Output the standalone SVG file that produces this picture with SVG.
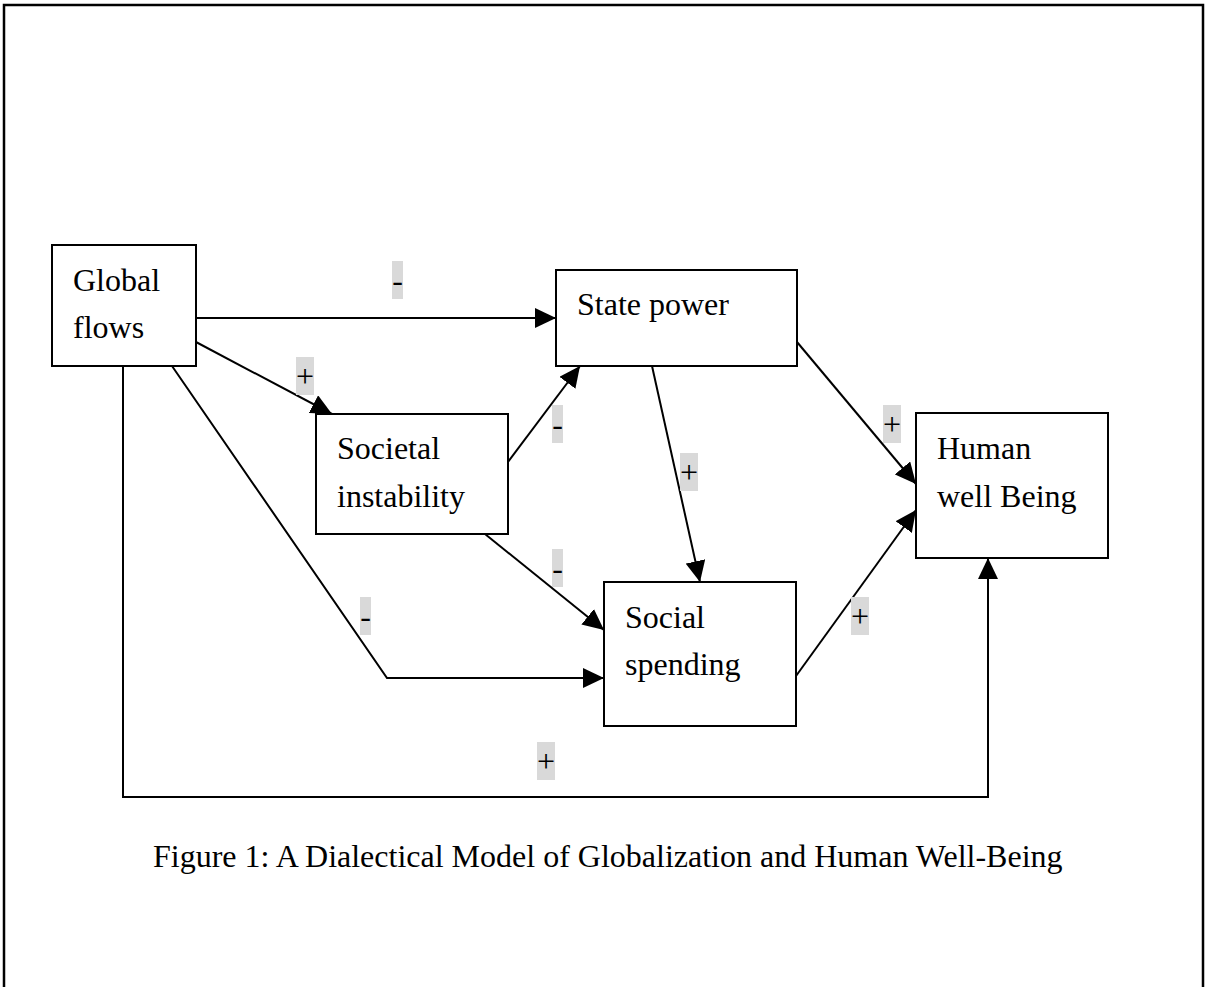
<svg xmlns="http://www.w3.org/2000/svg" width="1207" height="987" viewBox="0 0 1207 987">
<style>
.box{fill:#fff;stroke:#000;stroke-width:2}
.t{font-family:"Liberation Serif","Times New Roman",serif;font-size:32px;fill:#000}
.e{fill:none;stroke:#000;stroke-width:2}
.lb{fill:#d9d9d9}
.lt{font-family:"Liberation Serif","Times New Roman",serif;font-size:32px;fill:#000;text-anchor:middle}
</style>
<defs>
<marker id="ah" markerUnits="userSpaceOnUse" markerWidth="22" markerHeight="20" refX="21" refY="10" orient="auto" viewBox="0 0 22 20">
<path d="M0,0 L21,10 L0,20 z" fill="#000"/>
</marker>
</defs>
<rect width="1207" height="987" fill="#fff"/>
<path d="M4,987 V5 H1203 V987" fill="none" stroke="#000" stroke-width="2.5"/>
<g id="connectors">
<path class="e" d="M196,318 H556" marker-end="url(#ah)"/>
<path class="e" d="M196,342 L332,414" marker-end="url(#ah)"/>
<path class="e" d="M172,366 L387,678 H604" marker-end="url(#ah)"/>
<path class="e" d="M123,366 V797 H988 V558" marker-end="url(#ah)"/>
<path class="e" d="M508,462 L580,366" marker-end="url(#ah)"/>
<path class="e" d="M485,534 L604,630" marker-end="url(#ah)"/>
<path class="e" d="M652,366 L700,582" marker-end="url(#ah)"/>
<path class="e" d="M797,342 L916,484" marker-end="url(#ah)"/>
<path class="e" d="M796,676 L916,510" marker-end="url(#ah)"/>
</g>
<g id="labels">
<rect class="lb" x="392" y="261" width="11" height="38"/><text class="lt" x="397.5" y="291">-</text>
<rect class="lb" x="296" y="357" width="18" height="38"/><text class="lt" x="305" y="387">+</text>
<rect class="lb" x="552" y="405" width="11" height="38"/><text class="lt" x="557.5" y="435">-</text>
<rect class="lb" x="680" y="453" width="18" height="38"/><text class="lt" x="689" y="483">+</text>
<rect class="lb" x="552" y="549" width="11" height="38"/><text class="lt" x="557.5" y="579">-</text>
<rect class="lb" x="360" y="597" width="11" height="38"/><text class="lt" x="365.5" y="627">-</text>
<rect class="lb" x="883" y="405" width="18" height="38"/><text class="lt" x="892" y="435">+</text>
<rect class="lb" x="851" y="597" width="18" height="38"/><text class="lt" x="860" y="627">+</text>
<rect class="lb" x="537" y="742" width="18" height="38"/><text class="lt" x="546" y="772">+</text>
</g>
<g id="global-flows">
<rect class="box" x="52" y="245" width="144" height="121"/>
<text class="t" x="73" y="291">Global</text>
<text class="t" x="73" y="338">flows</text>
</g>
<g id="state-power">
<rect class="box" x="556" y="270" width="241" height="96"/>
<text class="t" x="577" y="315">State power</text>
</g>
<g id="societal-instability">
<rect class="box" x="316" y="414" width="192" height="120"/>
<text class="t" x="337" y="459">Societal</text>
<text class="t" x="337" y="507">instability</text>
</g>
<g id="social-spending">
<rect class="box" x="604" y="582" width="192" height="144"/>
<text class="t" x="625" y="628">Social</text>
<text class="t" x="625" y="675">spending</text>
</g>
<g id="human-well-being">
<rect class="box" x="916" y="413" width="192" height="145"/>
<text class="t" x="937" y="459">Human</text>
<text class="t" x="937" y="507">well Being</text>
</g>
<text class="t" x="153" y="867">Figure 1: A Dialectical Model of Globalization and Human Well-Being</text>
</svg>
